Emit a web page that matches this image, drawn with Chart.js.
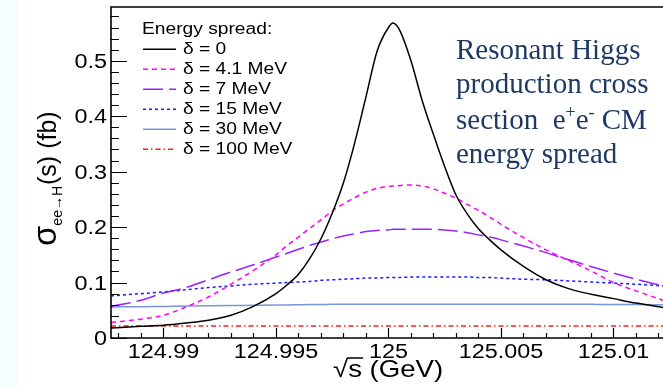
<!DOCTYPE html>
<html>
<head>
<meta charset="utf-8">
<script src="https://cdn.jsdelivr.net/npm/chart.js@4.4.1/dist/chart.umd.min.js"></script>
<style>
  html, body { margin: 0; padding: 0; background: #ffffff; }
  #wrap {
    position: relative; width: 663px; height: 388px;
    background: linear-gradient(to right, #f4fefe 0, #f4fefe 18px, #ffffff 18px);
  }
  canvas { display: block; }
</style>
</head>
<body>
<div id="wrap"><canvas id="chart" width="663" height="388"></canvas></div>
<script>
// Centre-of-mass energy samples (GeV)
const energyGeV = [
  124.98767, 124.989, 124.990, 124.991, 124.992, 124.993, 124.994, 124.995,
  124.9955, 124.996, 124.9965, 124.997, 124.9975, 124.998, 124.9985, 124.999,
  124.9995, 125.000, 125.0002, 125.0005, 125.001, 125.0015, 125.002, 125.0025,
  125.003, 125.0035, 125.004, 125.0045, 125.005, 125.006, 125.007, 125.008,
  125.009, 125.010, 125.011, 125.0122
];

// Cross section sigma(ee -> H) in fb for each beam energy spread
const sigmaDelta0 = [
  0.018, 0.021, 0.023, 0.027, 0.032, 0.041, 0.057, 0.080,
  0.096, 0.115, 0.143, 0.179, 0.225, 0.280, 0.352, 0.435,
  0.518, 0.560, 0.568, 0.555, 0.500, 0.428, 0.367, 0.309,
  0.258, 0.224, 0.197, 0.177, 0.159, 0.129, 0.105, 0.089,
  0.079, 0.071, 0.063, 0.055
];
const sigmaDelta4p1 = [
  0.028, 0.034, 0.041, 0.056, 0.074, 0.097, 0.122, 0.150,
  0.167, 0.182, 0.198, 0.213, 0.229, 0.242, 0.253, 0.263,
  0.270, 0.273, 0.274, 0.275, 0.276, 0.274, 0.269, 0.261,
  0.252, 0.241, 0.230, 0.218, 0.205, 0.181, 0.159, 0.140,
  0.121, 0.100, 0.085, 0.068
];
const sigmaDelta7 = [
  0.057, 0.068, 0.081, 0.091, 0.105, 0.119, 0.132, 0.146,
  0.153, 0.160, 0.167, 0.173, 0.179, 0.184, 0.188, 0.192,
  0.194, 0.195, 0.196, 0.196, 0.196, 0.196, 0.196, 0.195,
  0.193, 0.190, 0.186, 0.182, 0.177, 0.166, 0.154, 0.141,
  0.129, 0.117, 0.106, 0.094
];
const sigmaDelta15 = [
  0.076, 0.080, 0.083, 0.087, 0.091, 0.094, 0.097, 0.099,
  0.100, 0.101, 0.102, 0.104, 0.105, 0.106, 0.107, 0.108,
  0.108, 0.109, 0.109, 0.109, 0.110, 0.110, 0.110, 0.110,
  0.110, 0.110, 0.109, 0.109, 0.108, 0.106, 0.105, 0.103,
  0.101, 0.099, 0.097, 0.094
];
const sigmaDelta30 = [
  0.0560, 0.0565, 0.0570, 0.0575, 0.0580, 0.0585, 0.0590, 0.0595,
  0.0597, 0.0600, 0.0603, 0.0605, 0.0607, 0.0610, 0.0610, 0.0610,
  0.0610, 0.0610, 0.0610, 0.0610, 0.0610, 0.0610, 0.0610, 0.0610,
  0.0610, 0.0610, 0.0610, 0.0610, 0.0610, 0.0610, 0.0610, 0.0610,
  0.0607, 0.0605, 0.0602, 0.0600
];
const sigmaDelta100 = [
  0.0215, 0.0215, 0.0215, 0.0215, 0.0215, 0.0215, 0.0215, 0.0215,
  0.0215, 0.0215, 0.0215, 0.0215, 0.0215, 0.0215, 0.0215, 0.0215,
  0.0215, 0.0215, 0.0215, 0.0215, 0.0215, 0.0215, 0.0215, 0.0215,
  0.0215, 0.0215, 0.0215, 0.0215, 0.0215, 0.0215, 0.0215, 0.0215,
  0.0215, 0.0215, 0.0215, 0.0215
];

const seriesLabels = ['δ = 0', 'δ = 4.1 MeV', 'δ = 7 MeV', 'δ = 15 MeV', 'δ = 30 MeV', 'δ = 100 MeV'];
const xTickValues = [124.99, 124.995, 125, 125.005, 125.01];
const xTickLabels = ['124.99', '124.995', '125', '125.005', '125.01'];
const yTickValues = [0, 0.1, 0.2, 0.3, 0.4, 0.5];
const yTickLabels = ['0', '0.1', '0.2', '0.3', '0.4', '0.5'];
const noteLines = ['Resonant Higgs', 'production cross', 'section  e+e- CM', 'energy spread'];

// axis ranges
const X_MIN = 124.98767, X_MAX = 125.0122;
const Y_MIN = 0, Y_MAX = 0.597;

const allSeries = [sigmaDelta0, sigmaDelta4p1, sigmaDelta7, sigmaDelta15, sigmaDelta30, sigmaDelta100];
const lineStyles = [
  { color: '#000000', dash: [] },
  { color: '#ff00ff', dash: [5, 4] },
  { color: '#9a22ff', dash: [20, 6] },
  { color: '#1a1aff', dash: [3, 3] },
  { color: '#7896d6', dash: [] },
  { color: '#ff1a1a', dash: [5, 3, 1.5, 3] }
];

const SANS = '"Liberation Sans", Arial, sans-serif';
const SERIF = '"Liberation Serif", "Times New Roman", serif';

function drawText(ctx, txt, x, y, font, sx, align, baseline) {
  ctx.save();
  ctx.font = font;
  ctx.translate(x, y);
  ctx.scale(sx, 1);
  ctx.textAlign = align || 'left';
  ctx.textBaseline = baseline || 'alphabetic';
  ctx.fillText(txt, 0, 0);
  ctx.restore();
}

// Frame, inward ticks, labels, titles, legend and caption in ROOT style
const rootStyle = {
  id: 'rootStyle',
  afterDatasetsDraw(chart) {
    const { ctx, chartArea: a, scales } = chart;
    const xs = scales.x, ys = scales.y;
    ctx.save();
    ctx.strokeStyle = '#000';
    ctx.fillStyle = '#000';

    // frame
    ctx.lineWidth = 1.6;
    ctx.beginPath();
    ctx.moveTo(a.right + 2, a.top);
    ctx.lineTo(a.left, a.top);
    ctx.lineTo(a.left, a.bottom);
    ctx.lineTo(a.right + 2, a.bottom);
    ctx.stroke();

    // y ticks (major every 0.1, minor every 0.02)
    ctx.lineWidth = 1.2;
    ctx.beginPath();
    for (let k = 0; k * 0.02 <= Y_MAX + 1e-9; k++) {
      const py = Math.round(ys.getPixelForValue(k * 0.02)) + 0.5;
      const len = (k % 5 === 0) ? 16 : 8;
      ctx.moveTo(a.left, py);
      ctx.lineTo(a.left + len, py);
    }
    // x ticks (major every 0.005, minor every 0.001)
    const mStart = Math.ceil(X_MIN * 1000 - 1e-6), mEnd = Math.floor(X_MAX * 1000 + 1e-6);
    for (let m = mStart; m <= mEnd; m++) {
      const px = Math.round(xs.getPixelForValue(m / 1000)) + 0.5;
      const len = (m % 5 === 0) ? 10 : 5;
      ctx.moveTo(px, a.bottom);
      ctx.lineTo(px, a.bottom - len);
    }
    ctx.stroke();

    // tick labels
    const tickFont = '19.5px ' + SANS;
    yTickValues.forEach((v, i) => {
      drawText(ctx, yTickLabels[i], a.left - 4, ys.getPixelForValue(v) + 7, tickFont, 1.2, 'right');
    });
    xTickValues.forEach((v, i) => {
      drawText(ctx, xTickLabels[i], xs.getPixelForValue(v), a.bottom + 20, tickFont, 1.2, 'center');
    });

    // x title: sqrt(s) (GeV)
    ctx.save();
    ctx.translate(333, 377);
    ctx.scale(1.15, 1);
    ctx.font = '24px ' + SANS;
    ctx.textAlign = 'left';
    ctx.fillText('√', 0, 0);
    const wr = ctx.measureText('√').width;
    ctx.fillText('s', wr, 0);
    const ws = ctx.measureText('s').width;
    ctx.lineWidth = 1.5;
    ctx.beginPath();
    ctx.moveTo(wr - 1, -19);
    ctx.lineTo(wr + ws + 1, -19);
    ctx.stroke();
    ctx.fillText(' (GeV)', wr + ws, 0);
    ctx.restore();

    // y title: sigma_{ee->H}(s) (fb)
    ctx.save();
    ctx.translate(56, 246);
    ctx.rotate(-Math.PI / 2);
    ctx.textAlign = 'left';
    let cx = 0;
    ctx.font = '33px ' + SANS;
    ctx.fillText('σ', cx, 0);
    cx += ctx.measureText('σ').width;
    ctx.font = '14px ' + SANS;
    ctx.fillText('ee→H', cx, 6);
    cx += ctx.measureText('ee→H').width + 1;
    ctx.font = '25px ' + SANS;
    ctx.fillText('(s) (fb)', cx, 0);
    ctx.restore();

    // legend
    drawText(ctx, 'Energy spread:', 142, 34, '16px ' + SANS, 1.2, 'left');
    chart.data.datasets.forEach((ds, i) => {
      const base = 54.3 + i * 20;
      ctx.save();
      ctx.strokeStyle = ds.borderColor;
      ctx.lineWidth = ds.borderWidth;
      ctx.setLineDash(ds.borderDash || []);
      ctx.beginPath();
      ctx.moveTo(143, base - 5);
      ctx.lineTo(176, base - 5);
      ctx.stroke();
      ctx.restore();
      drawText(ctx, ds.label, 183, base, '16px ' + SANS, 1.2, 'left');
    });

    // caption
    ctx.fillStyle = '#1e3a64';
    const capFont = '29px ' + SERIF;
    const capX = 456;
    const capBase = [59, 93, 128.5, 163];
    [0, 1, 3].forEach(i => drawText(ctx, noteLines[i], capX, capBase[i], capFont, 1, 'left'));
    // third line with superscript charges
    ctx.save();
    ctx.textAlign = 'left';
    let tx = capX;
    const y3 = capBase[2];
    const pieces = [
      ['section  ', false], ['e', false], ['+', true], ['e', false], ['-', true], [' CM', false]
    ];
    pieces.forEach(([t, sup]) => {
      ctx.font = sup ? '18px ' + SERIF : capFont;
      ctx.fillText(t, tx, sup ? y3 - 11 : y3);
      tx += ctx.measureText(t).width;
    });
    ctx.restore();

    ctx.restore();
  }
};

const datasets = allSeries.map((vals, i) => ({
  label: seriesLabels[i],
  data: energyGeV.map((e, j) => ({ x: e, y: vals[j] })),
  borderColor: lineStyles[i].color,
  borderDash: lineStyles[i].dash,
  borderWidth: 1.5,
  pointRadius: 0,
  fill: false,
  cubicInterpolationMode: 'monotone'
}));

new Chart(document.getElementById('chart'), {
  type: 'line',
  data: { datasets },
  options: {
    responsive: false,
    animation: false,
    devicePixelRatio: 1,
    layout: { padding: { top: 7, right: 0, bottom: 0, left: 0 } },
    plugins: { legend: { display: false }, tooltip: { enabled: false } },
    scales: {
      x: {
        type: 'linear', min: X_MIN, max: X_MAX,
        grid: { display: false }, border: { display: false },
        ticks: { display: false },
        afterFit(s) { s.height = 50; }
      },
      y: {
        type: 'linear', min: Y_MIN, max: Y_MAX,
        grid: { display: false }, border: { display: false },
        ticks: { display: false },
        afterFit(s) { s.width = 111; }
      }
    }
  },
  plugins: [rootStyle]
});
</script>
</body>
</html>
